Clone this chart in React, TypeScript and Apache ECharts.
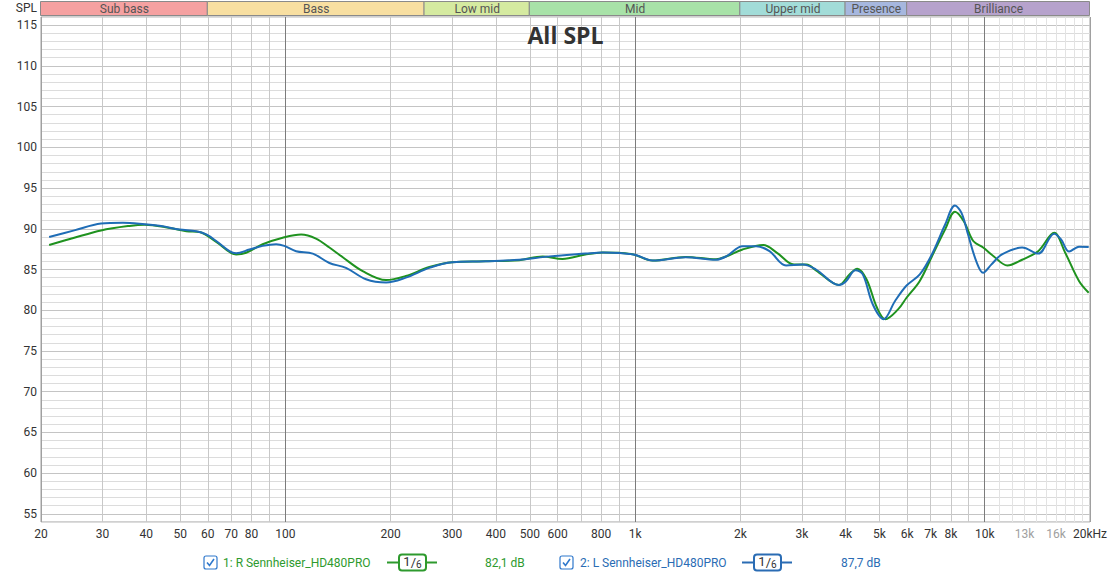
import React, { useEffect, useRef } from 'react';
import * as echarts from 'echarts';

// Right channel (green)
const rFreq = [21.1, 24.9, 29.7, 35.8, 39.6, 46.7, 52.1, 56.8, 63.4, 72.3, 77.2, 86.1, 98.2, 110.9, 122.3, 133.6, 145.9, 166.3, 194, 221, 258, 300, 373, 466, 544, 620, 721, 808, 899, 990, 1123, 1395, 1704, 1821, 2030, 2326, 2546, 2848, 3094, 3291, 3828, 4104, 4320, 4590, 4920, 5197, 5650, 5968, 6520, 7060, 7700, 8220, 8720, 9270, 9894, 10620, 11600, 12790, 14220, 15800, 16990, 18600, 19830];
const rSpl = [88.0, 88.9, 89.8, 90.35, 90.5, 90.1, 89.7, 89.6, 88.4, 86.85, 87.05, 88.1, 88.9, 89.3, 88.8, 87.7, 86.5, 84.8, 83.7, 84.2, 85.3, 85.9, 86.0, 86.15, 86.6, 86.3, 86.85, 87.1, 87.05, 86.85, 86.1, 86.55, 86.25, 86.6, 87.45, 88.0, 87.05, 85.6, 85.6, 84.9, 83.1, 84.4, 85.1, 83.8, 80.3, 78.9, 80.1, 81.5, 83.6, 86.6, 89.9, 92.1, 90.9, 88.5, 87.7, 86.6, 85.5, 86.2, 87.25, 89.5, 87.05, 83.6, 82.15];

// Left channel (blue)
const lFreq = [21.1, 24.9, 29.7, 34.3, 39.6, 44.6, 49.8, 55.6, 59.4, 63.4, 69.2, 72.3, 78.9, 86.1, 94.1, 99.3, 107.3, 119.7, 133.6, 149, 170, 194, 221, 258, 300, 373, 466, 553, 721, 808, 990, 1123, 1395, 1704, 1821, 2030, 2220, 2423, 2703, 3014, 3291, 3828, 4000, 4270, 4480, 4786, 5139, 5535, 5968, 6520, 7060, 7700, 8220, 8580, 8960, 9460, 9894, 10440, 11200, 12790, 14220, 15800, 16530, 17430, 18600, 19830];
const lSpl = [89.0, 89.8, 90.65, 90.75, 90.55, 90.3, 89.9, 89.7, 89.3, 88.5, 87.25, 87.0, 87.45, 87.9, 88.1, 87.9, 87.25, 86.95, 85.8, 85.2, 83.8, 83.4, 84.0, 85.2, 85.9, 86.0, 86.2, 86.55, 86.95, 87.1, 86.85, 86.1, 86.5, 86.2, 86.6, 87.85, 87.85, 87.25, 85.5, 85.6, 85.0, 83.1, 83.5, 84.9, 84.4, 80.7, 78.9, 81.1, 83.0, 84.4, 86.85, 90.5, 92.85, 91.95, 89.3, 86.0, 84.6, 85.6, 86.85, 87.7, 86.95, 89.4, 88.7, 87.2, 87.8, 87.75];

const bandNames = ['Sub bass', 'Bass', 'Low mid', 'Mid', 'Upper mid', 'Presence', 'Brilliance'];
const bandEdges = [20, 60, 250, 500, 2000, 4000, 6000, 20000];
const bandColors = ['#f5a1a1', '#f8dfa1', '#d5eaa0', '#a8e2a8', '#a2dcd8', '#a6b7de', '#b6a2cc'];

const gridFreqs = [20, 30, 40, 50, 60, 70, 80, 90, 100, 200, 300, 400, 500, 600, 700, 800, 900, 1000, 2000, 3000, 4000, 5000, 6000, 7000, 8000, 9000, 10000, 11000, 12000, 13000, 14000, 15000, 16000, 17000, 18000, 19000, 20000];
const tickFreqs = [20, 30, 40, 50, 60, 70, 80, 100, 200, 300, 400, 500, 600, 800, 1000, 2000, 3000, 4000, 5000, 6000, 7000, 8000, 10000, 13000, 16000, 20000];
const tickTexts = ['20', '30', '40', '50', '60', '70', '80', '100', '200', '300', '400', '500', '600', '800', '1k', '2k', '3k', '4k', '5k', '6k', '7k', '8k', '10k', '13k', '16k', '20kHz'];

const GREEN = '#1f921f';
const BLUE = '#1f6db6';
const FONT = 'Roboto, "Noto Sans", sans-serif';

export default function App() {
  const ref = useRef<HTMLDivElement>(null);
  useEffect(() => {
    if (!ref.current) return;
    const chart = echarts.init(ref.current, undefined, { renderer: 'svg' });

    const gridLineData: any[] = gridFreqs.map((f) => {
      let color = '#c8c8c8';
      if (f === 100 || f === 1000 || f === 10000) color = '#7c7c7c';
      else if (f === 20 || f === 20000) color = '#a0a0a0';
      else if (f > 10000) color = '#e3e3e3';
      const ti = tickFreqs.indexOf(f);
      return {
        xAxis: f,
        lineStyle: { color, width: 1, type: 'solid' },
        label: ti >= 0
          ? {
              show: true,
              position: 'start',
              formatter: tickTexts[ti],
              color: f === 13000 || f === 16000 ? '#a0a0a0' : '#333',
              fontSize: 12,
              fontFamily: FONT,
              distance: 6,
            }
          : { show: false },
      };
    });

    const option: any = {
      animation: false,
      backgroundColor: '#fff',
      grid: { left: 41, right: 20, top: 17, bottom: 52, show: true, borderColor: '#a0a0a0', borderWidth: 1, backgroundColor: '#fff' },
      xAxis: {
        type: 'log', logBase: 10, min: 20, max: 20000,
        axisLine: { show: false }, axisTick: { show: false }, axisLabel: { show: false }, splitLine: { show: false },
      },
      yAxis: {
        type: 'value', min: 54, max: 116, interval: 1,
        axisLine: { show: false }, axisTick: { show: false },
        axisLabel: {
          formatter: (v: number) => (v % 5 === 0 ? String(v) : ''),
          color: '#333', fontSize: 12, fontFamily: FONT, margin: 4,
        },
        splitLine: { show: true, lineStyle: { color: ['#dcdcdc', '#c4c4c4', '#dcdcdc', '#dcdcdc', '#dcdcdc'], width: 1 } },
      },
      series: [
        {
          type: 'line', data: [], z: 1, silent: true,
          markLine: { silent: true, symbol: 'none', animation: false, data: gridLineData },
        },
        {
          name: '1: R Sennheiser_HD480PRO', type: 'line', z: 5, smooth: 0.35, showSymbol: false,
          lineStyle: { color: GREEN, width: 2 }, itemStyle: { color: GREEN },
          data: rFreq.map((f, i) => [f, rSpl[i]]),
        },
        {
          name: '2: L Sennheiser_HD480PRO', type: 'line', z: 6, smooth: 0.35, showSymbol: false,
          lineStyle: { color: BLUE, width: 2 }, itemStyle: { color: BLUE },
          data: lFreq.map((f, i) => [f, lSpl[i]]),
        },
      ],
    };
    chart.setOption(option);

    const px = (f: number) => chart.convertToPixel({ xAxisIndex: 0 }, f) as number;
    const graphics: any[] = [];
    // Frequency band strip
    for (let i = 0; i < bandNames.length; i++) {
      const x0 = px(bandEdges[i]);
      const x1 = px(bandEdges[i + 1]);
      graphics.push({
        type: 'rect', shape: { x: x0 - 0.5, y: 1.5, width: x1 - x0, height: 14 },
        style: { fill: bandColors[i], stroke: '#8a8a8a', lineWidth: 1 }, z: 10,
      });
      graphics.push({
        type: 'text', x: (x0 + x1) / 2, y: 9,
        style: { text: bandNames[i], fill: '#555', fontSize: 12, fontFamily: FONT, align: 'center', verticalAlign: 'middle' }, z: 11,
      });
    }
    const midX = (px(20) + px(20000)) / 2;
    graphics.push({
      type: 'text', x: midX, y: 35,
      style: { text: 'All SPL', fill: '#333', fontSize: 23, fontWeight: 'bold', fontFamily: '"Open Sans", sans-serif', align: 'center', verticalAlign: 'middle' }, z: 11,
    });
    graphics.push({
      type: 'text', x: 37, y: 8,
      style: { text: 'SPL', fill: '#333', fontSize: 12, fontFamily: FONT, align: 'right', verticalAlign: 'middle' }, z: 11,
    });

    const legendItem = (cbX: number, textX: number, symX: number, valX: number, label: string, value: string, color: string) => {
      const cy = 562.5;
      graphics.push({
        type: 'rect', shape: { x: cbX, y: cy - 6.5, width: 13, height: 13, r: 2 },
        style: { fill: '#fff', stroke: '#2f78cc', lineWidth: 1.2 }, z: 11,
      });
      graphics.push({
        type: 'polyline', shape: { points: [[cbX + 3, cy], [cbX + 5.5, cy + 3], [cbX + 10, cy - 3.5]] },
        style: { stroke: '#2f78cc', lineWidth: 1.6, fill: 'none' }, z: 12,
      });
      graphics.push({
        type: 'text', x: textX, y: cy,
        style: { text: label, fill: color, fontSize: 12, fontFamily: FONT, align: 'left', verticalAlign: 'middle' }, z: 11,
      });
      graphics.push({
        type: 'line', shape: { x1: symX, y1: cy, x2: symX + 50, y2: cy },
        style: { stroke: color, lineWidth: 2 }, z: 11,
      });
      graphics.push({
        type: 'rect', shape: { x: symX + 12, y: cy - 8, width: 27, height: 16, r: 3 },
        style: { fill: '#fff', stroke: color, lineWidth: 2 }, z: 12,
      });
      graphics.push({
        type: 'text', x: symX + 25.5, y: cy,
        style: {
          text: '{a|1}{s|/}{b|6}',
          rich: {
            a: { fontSize: 13, fill: '#333', fontFamily: FONT, padding: [0, 0, 3, 0] },
            s: { fontSize: 13, fill: '#333', fontFamily: FONT },
            b: { fontSize: 10, fill: '#333', fontFamily: FONT, padding: [4, 0, 0, 0] },
          },
          align: 'center', verticalAlign: 'middle',
        },
        z: 13,
      });
      graphics.push({
        type: 'text', x: valX, y: cy,
        style: { text: value, fill: color, fontSize: 12, fontFamily: FONT, align: 'left', verticalAlign: 'middle' }, z: 11,
      });
    };
    legendItem(204, 223, 387, 485, '1: R Sennheiser_HD480PRO', '82,1 dB', '#2e9a2e');
    legendItem(560, 580, 742, 841, '2: L Sennheiser_HD480PRO', '87,7 dB', '#2a6cb4');

    chart.setOption({ graphic: graphics });

    return () => chart.dispose();
  }, []);
  return <div ref={ref} style={{ position: 'fixed', left: 0, top: 0, width: 1110, height: 574 }} />;
}
